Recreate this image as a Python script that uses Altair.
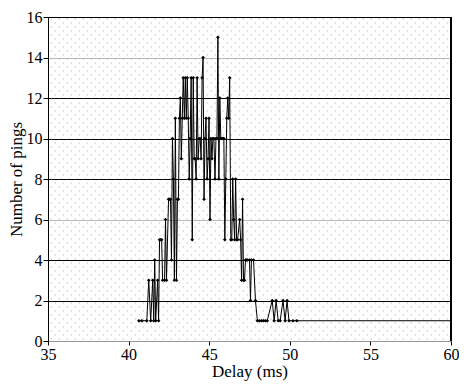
import altair as alt
import numpy as np
import pandas as pd

# Delay (ms) and number of pings
delay = [40.64, 40.82, 41.13, 41.25, 41.37, 41.50, 41.56, 41.62, 41.68, 41.80,
         41.86, 41.92, 41.99, 42.05, 42.11, 42.23, 42.29, 42.35, 42.48, 42.54,
         42.60, 42.66, 42.72, 42.78, 42.84, 42.90, 42.97, 43.03, 43.09, 43.15,
         43.21, 43.27, 43.33, 43.39, 43.46, 43.52, 43.58, 43.64, 43.70, 43.76,
         43.82, 43.88, 43.95, 44.01, 44.07, 44.13, 44.19, 44.25, 44.31, 44.38,
         44.44, 44.50, 44.56, 44.62, 44.68, 44.74, 44.80, 44.87, 44.93, 44.99,
         45.05, 45.11, 45.17, 45.23, 45.29, 45.36, 45.42, 45.48, 45.54, 45.60,
         45.66, 45.72, 45.78, 45.85, 45.91, 45.97, 46.03, 46.09, 46.15, 46.21,
         46.27, 46.34, 46.40, 46.46, 46.52, 46.58, 46.64, 46.70, 46.76, 46.89,
         46.95, 47.01, 47.07, 47.13, 47.19, 47.25, 47.32, 47.38, 47.50, 47.56,
         47.62, 47.75, 47.87, 47.99, 48.11, 48.24, 48.36, 48.48, 48.60, 48.91,
         49.03, 49.15, 49.28, 49.40, 49.58, 49.71, 49.83, 49.95, 50.20, 50.44]
pings = [1, 1, 1, 3, 1, 3, 1, 4, 1, 3,
         1, 5, 5, 5, 3, 3, 6, 3, 7, 7,
         7, 4, 10, 8, 3, 11, 3, 7, 7, 11,
         12, 9, 11, 13, 11, 13, 11, 13, 11, 8,
         10, 13, 5, 13, 9, 9, 8, 13, 9, 10,
         10, 9, 13, 14, 7, 10, 11, 8, 9, 11,
         6, 10, 9, 10, 10, 8, 10, 10, 15, 8,
         12, 10, 10, 10, 10, 5, 8, 11, 12, 11,
         13, 5, 5, 8, 6, 5, 8, 5, 5, 6,
         5, 3, 7, 3, 3, 4, 4, 4, 4, 2,
         4, 4, 2, 1, 1, 1, 1, 1, 1, 2,
         1, 2, 1, 1, 2, 1, 2, 1, 1, 1]
tail_delay = [60.0]
tail_pings = [1]

y_ticks = [0, 2, 4, 6, 8, 10, 12, 14, 16]
x_ticks = [35, 40, 45, 50, 55, 60]

W, H = 403, 324
FONT = "Liberation Serif, Times New Roman, DejaVu Serif, serif"

pts = pd.DataFrame({"delay": delay, "pings": pings})
line_df = pd.DataFrame({"delay": delay + tail_delay, "pings": pings + tail_pings})

# decorative dotted background texture (staggered dot grid)
rows = []
for r, yy in enumerate(np.arange(0.1, 16, 4 / (H / 16))):
    off = 0.0 if r % 2 == 0 else 4 / (W / 25)
    for xx in np.arange(35.2 + off, 60, 8 / (W / 25)):
        rows.append({"tx": xx, "ty": yy})
tex = pd.DataFrame(rows)

xs = alt.Scale(domain=[35, 60], nice=False, zero=False)
ys = alt.Scale(domain=[0, 16], nice=False)

xaxis = alt.Axis(values=x_ticks, title="Delay (ms)", grid=False,
                 domainColor="#808080", domainDash=[1, 1], domainWidth=1,
                 tickColor="black", tickSize=4, labelPadding=1,
                 labelFont=FONT, labelFontSize=16, labelColor="black",
                 titleFont=FONT, titleFontSize=17, titleFontWeight="normal",
                 titleColor="black", titlePadding=1, labelFlush=False)
yaxis = alt.Axis(values=y_ticks, title="Number of pings",
                 grid=True,
                 gridColor=alt.condition("datum.value == 14 || datum.value == 6 || datum.value == 0",
                                         alt.value("#777777"), alt.value("black")),
                 gridDash=alt.condition("datum.value == 14 || datum.value == 6 || datum.value == 0",
                                        alt.value([1, 1]), alt.value([])),
                 gridWidth=1, gridOpacity=1,
                 domainColor="black", tickColor="black", tickSize=5, labelPadding=1,
                 labelFont=FONT, labelFontSize=16, labelColor="black",
                 titleFont=FONT, titleFontSize=17, titleFontWeight="normal",
                 titleColor="black", titlePadding=1)

texture = alt.Chart(tex).mark_square(size=1, color="#a6a6a6", opacity=1).encode(
    x=alt.X("tx:Q", scale=xs, axis=xaxis),
    y=alt.Y("ty:Q", scale=ys, axis=yaxis),
)

line = alt.Chart(line_df).mark_line(color="black", strokeWidth=1).encode(
    x=alt.X("delay:Q", scale=xs),
    y=alt.Y("pings:Q", scale=ys),
    order="delay:Q",
)
points = alt.Chart(pts).mark_point(shape="diamond", filled=True, color="black",
                                   size=14, opacity=1).encode(
    x=alt.X("delay:Q", scale=xs),
    y=alt.Y("pings:Q", scale=ys),
)
right_edge = alt.Chart(pts).mark_rule(color="black", strokeWidth=1).encode(
    x=alt.value(W), y=alt.value(0), y2=alt.value(H)
)

chart = alt.layer(texture, line, points, right_edge).properties(
    width=W, height=H,
    autosize=alt.AutoSizeParams(type="none"),
    padding={"left": 40, "top": 9, "right": 8, "bottom": 40},
    background="white",
).configure_view(stroke=None).configure(font=FONT)

chart.save("out.html", embed_options={"renderer": "svg", "actions": False})
